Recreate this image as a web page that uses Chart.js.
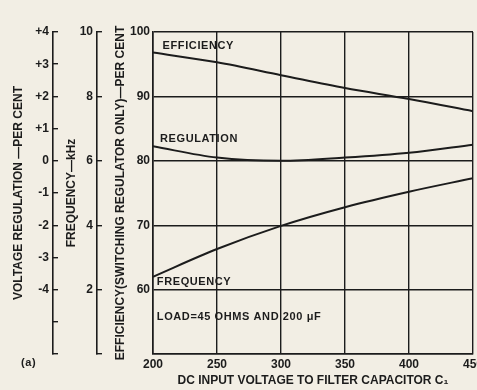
<!DOCTYPE html>
<html>
<head>
<meta charset="utf-8">
<script src="https://cdn.jsdelivr.net/npm/chart.js@4.4.0/dist/chart.umd.min.js"></script>
<style>
  html, body { margin: 0; padding: 0; background: #f2eee4; }
  #chart { display: block; }
</style>
</head>
<body>
<canvas id="chart" width="477" height="390"></canvas>
<script>
// valores
const voltage = [200, 250, 300, 350, 400, 450];
const efficiency = [96.8, 95.3, 93.3, 91.3, 89.6, 87.7];
const regulation = [0.45, 0.1, 0.0, 0.1, 0.25, 0.5];
const frequency = [2.4, 3.26, 3.98, 4.56, 5.04, 5.46];

const ink = '#1c1c1c';
const font = 'Liberation Sans';

const toPoints = (vals) => vals.map((v, i) => ({ x: voltage[i], y: v }));

// rotulos dentro del grafico (posiciones en unidades de datos)
const notes = [
  { text: 'EFFICIENCY', x: 207.5, y: 97.8 },
  { text: 'REGULATION', x: 205.5, y: 83.4 },
  { text: 'FREQUENCY', x: 203, y: 61.2 },
  { text: 'LOAD=45 OHMS AND 200 \u03BCF', x: 203, y: 55.7 }
];

const notesPlugin = {
  id: 'notes',
  afterDatasetsDraw(chart) {
    const { ctx, scales } = chart;
    ctx.save();
    ctx.fillStyle = ink;
    ctx.font = 'bold 11px "' + font + '"';
    ctx.letterSpacing = '0.6px';
    ctx.textBaseline = 'middle';
    ctx.textAlign = 'left';
    notes.forEach(n => {
      ctx.fillText(n.text, scales.x.getPixelForValue(n.x), scales.eff.getPixelForValue(n.y));
    });
    ctx.fillText('(a)', 21, 363);
    ctx.restore();
  }
};

const fixWidth = (w) => (scale) => { scale.width = w; };
const tickFont = { family: font, size: 12, weight: 'bold' };
const titleFont = { family: font, size: 12, weight: 'bold' };

new Chart(document.getElementById('chart'), {
  type: 'line',
  data: {
    datasets: [
      { label: 'Efficiency', data: toPoints(efficiency), yAxisID: 'eff' },
      { label: 'Regulation', data: toPoints(regulation), yAxisID: 'reg' },
      { label: 'Frequency', data: toPoints(frequency), yAxisID: 'freq' }
    ]
  },
  options: {
    responsive: false,
    animation: false,
    layout: { padding: { top: 32, right: 4, bottom: 0, left: 0 } },
    elements: {
      line: { borderColor: ink, borderWidth: 2, tension: 0.4, cubicInterpolationMode: 'monotone' },
      point: { radius: 0 }
    },
    plugins: { legend: { display: false }, tooltip: { enabled: false } },
    scales: {
      x: {
        type: 'linear', min: 200, max: 450,
        ticks: { stepSize: 50, color: ink, padding: 3, font: tickFont },
        grid: { color: ink, lineWidth: 1.4, drawTicks: false },
        border: { color: ink, width: 1.6 },
        title: { display: true, text: 'DC INPUT VOLTAGE TO FILTER CAPACITOR C\u2081', color: ink,
                 font: titleFont, padding: { top: 0, bottom: 2 } },
        afterFit(scale) { scale.height = 36; scale.paddingRight = 0; }
      },
      reg: {
        position: 'left', weight: 3, min: -6, max: 4,
        ticks: { stepSize: 1, color: ink, padding: 9, font: tickFont,
                 callback: (v) => v <= -5 ? '' : (v > 0 ? '+' + v : String(v)) },
        grid: { drawOnChartArea: false, color: ink, tickLength: -5, lineWidth: 1.4 },
        border: { color: ink, width: 1.6 },
        title: { display: true, text: 'VOLTAGE REGULATION \u2014PER CENT', color: ink,
                 font: titleFont, padding: { top: 11.5, bottom: 0 } },
        afterFit: fixWidth(53)
      },
      freq: {
        position: 'left', weight: 2, min: 0, max: 10,
        ticks: { stepSize: 2, color: ink, padding: 9, font: tickFont,
                 callback: (v) => v === 0 ? '' : String(v) },
        grid: { drawOnChartArea: false, color: ink, tickLength: -5, lineWidth: 1.4 },
        border: { color: ink, width: 1.6 },
        title: { display: true, text: 'FREQUENCY\u2014kHz', color: ink,
                 font: titleFont, padding: { top: 11.5, bottom: 0 } },
        afterFit: fixWidth(44)
      },
      eff: {
        position: 'left', weight: 1, min: 50, max: 100,
        ticks: { stepSize: 10, color: ink, padding: 3, font: tickFont,
                 callback: (v) => v === 50 ? '' : String(v) },
        grid: { color: ink, lineWidth: 1.4, drawTicks: false },
        border: { color: ink, width: 1.6 },
        title: { display: true, text: 'EFFICIENCY(SWITCHING REGULATOR ONLY)\u2014PER CENT', color: ink,
                 font: titleFont, padding: { top: 16.5, bottom: 0 } },
        afterFit: fixWidth(56)
      }
    }
  },
  plugins: [notesPlugin]
});
</script>
</body>
</html>
